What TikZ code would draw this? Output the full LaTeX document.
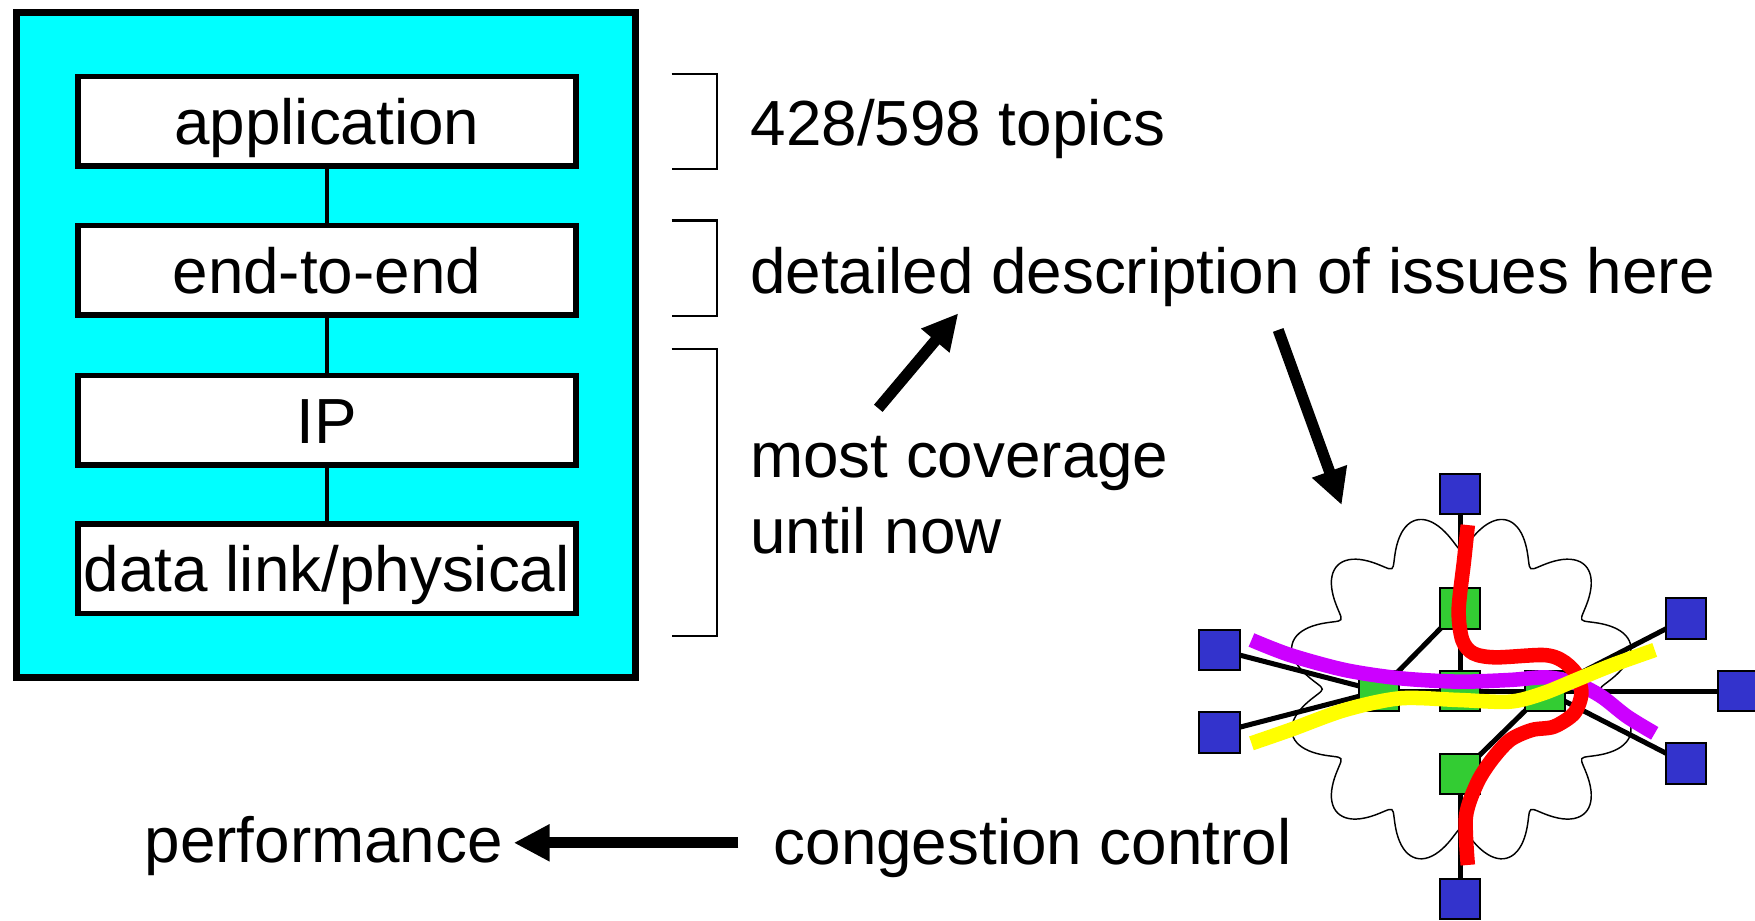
\documentclass[tikz,border=0pt]{standalone}
\usepackage{fontspec}
\setmainfont{Liberation Sans}
\usetikzlibrary{arrows.meta,backgrounds}

\definecolor{stackcyan}{RGB}{0,255,255}
\definecolor{hostblue}{RGB}{51,51,204}
\definecolor{routergreen}{RGB}{51,204,51}
\definecolor{flowred}{RGB}{255,0,0}
\definecolor{flowpurple}{RGB}{204,0,255}
\definecolor{flowyellow}{RGB}{255,255,0}

\begin{document}
\begin{tikzpicture}[x=1pt,y=-1pt,
  big/.style={font=\fontsize{57pt}{68pt}\selectfont},
  stackbox/.style={draw,line width=5pt,fill=white,minimum width=445pt,minimum height=80pt,
    inner sep=0pt,text height=41pt,text depth=0pt,big},
  txt/.style={anchor=base west,inner sep=0pt,big},
  bracketline/.style={line width=1.8pt},
  bigarrow/.style={line width=10pt,-{Triangle[length=32pt,width=31pt]}},
  host/.style={draw,line width=1.8pt,fill=hostblue,minimum size=36pt,inner sep=0pt},
  router/.style={draw,line width=1.8pt,fill=routergreen,minimum size=36pt,inner sep=0pt},
  link/.style={line width=4.5pt},
  flow/.style={line width=13pt}
]
\useasboundingbox (0,0) rectangle (1568,822);

% protocol stack
\node[draw,line width=6pt,fill=stackcyan,minimum width=553pt,minimum height=594pt,inner sep=0pt]
  (stack) at (291.5,308) {};
\node[stackbox] (app) at (292,108.5) {application};
\node[stackbox] (e2e) at (292,241.5) {end-to-end};
\node[stackbox] (ip)  at (292,375.5) {IP};
\node[stackbox] (dl)  at (292,508)   {data link/physical};
\draw[line width=3.5pt] (app) -- (e2e);
\draw[line width=3.5pt] (e2e) -- (ip);
\draw[line width=3.5pt] (ip) -- (dl);

% brackets beside the stack
\draw[bracketline] (600,66) -| (641,151) -- (600,151);
\draw[bracketline] (600,197) -| (641,282.5) -- (600,282.5);
\draw[bracketline] (600,312) -| (641,568.5) -- (600,568.5);

% annotations
\node[txt] (topics) at (670.5,130) {428/598 topics};
\node[txt] (detail) at (670,262) {detailed description of issues here};
\node[txt] (most)   at (670,426.5) {most coverage};
\node[txt] (until)  at (670,494.5) {until now};
\node[txt] (cong)   at (691,772) {congestion control};
\node[txt] (perf)   at (129,771) {performance};

% arrows
\coordinate (up1) at (784.7,364.8);
\coordinate (up2) at (856.2,279.9);
\draw[bigarrow] (up1) -- (up2);
\coordinate (dn1) at (1142,294.8);
\coordinate (dn2) at (1198.7,451.2);
\draw[bigarrow] (dn1) -- (dn2);
\coordinate (lf1) at (659.6,753);
\coordinate (lf2) at (459,753);
\draw[bigarrow] (lf1) -- (lf2);

% network: hosts and routers
\node[host] (hT)  at (1304.5,441.5) {};
\node[host] (hB)  at (1304.5,803) {};
\node[host] (hL1) at (1089.5,580.6) {};
\node[host] (hL2) at (1089.5,654.4) {};
\node[host] (hR1) at (1506.5,552.5) {};
\node[host] (hR2) at (1553,617.5) {};
\node[host] (hR3) at (1506.5,682.2) {};

\node[router] (rT) at (1304.5,543.7) {};
\node[router] (rB) at (1304.5,691.7) {};
\node[router] (rL) at (1232,617.5) {};
\node[router] (rC) at (1304.5,617.5) {};
\node[router] (rR) at (1380.5,617.5) {};

\begin{scope}[on background layer]
  % cloud outline
  \draw[line width=1.3pt] plot[domain=0:360,samples=361,smooth]
    ({1305.6+(119+37*sqrt(sin(6*\x)*sin(6*\x)+0.02))*cos(\x)},
     {615.7-(119+37*sqrt(sin(6*\x)*sin(6*\x)+0.02))*sin(\x)}) -- cycle;
  % links
  \draw[link] (hT.center) -- (rT.center);
  \draw[link] (rT.center) -- (rC.center);
  \draw[link] (rT.center) -- (rL.center);
  \draw[link] (hL1.center) -- (rL.center);
  \draw[link] (hL2.center) -- (rL.center);
  \draw[link] (rL.center) -- (rC.center);
  \draw[link] (rC.center) -- (rR.center);
  \draw[link] (rR.center) -- (hR1.center);
  \draw[link] (rR.center) -- (hR2.center);
  \draw[link] (rR.center) -- (hR3.center);
  \draw[link] (rR.center) -- (rB.center);
  \draw[link] (rB.center) -- (hB.center);
\end{scope}

% traffic flows
\draw[flow,flowpurple] plot[smooth] coordinates {(1118.1,571.8) (1152.5,585.2) (1201.6,598.6)
  (1250.8,606) (1303.2,609) (1349,607.5) (1381.8,605.2) (1408,610.5) (1430.9,622.4)
  (1453.9,640.3) (1478.4,655.2)};
\draw[flow,flowred] plot[smooth] coordinates {(1311.4,469.1) (1308.1,500.3) (1303.2,545)
  (1306.5,571.8) (1316.3,583.7) (1336,587.3) (1378.5,585.2) (1394.9,589.7) (1408,601.6)
  (1412.9,619.5) (1406.4,637.3) (1388.4,649.2) (1368.7,652.2) (1349,661.2) (1332.7,679)
  (1319.6,699.9) (1309.7,729.6) (1311.4,772.8)};
\draw[flow,flowyellow] plot[smooth] coordinates {(1118.1,664.1) (1152.5,652.2) (1201.6,634.3)
  (1250.8,623.9) (1303.2,625.4) (1349,626.9) (1378.5,619.5) (1408,607.5) (1440.8,594.1)
  (1478.4,580.7)};
\end{tikzpicture}
\end{document}
